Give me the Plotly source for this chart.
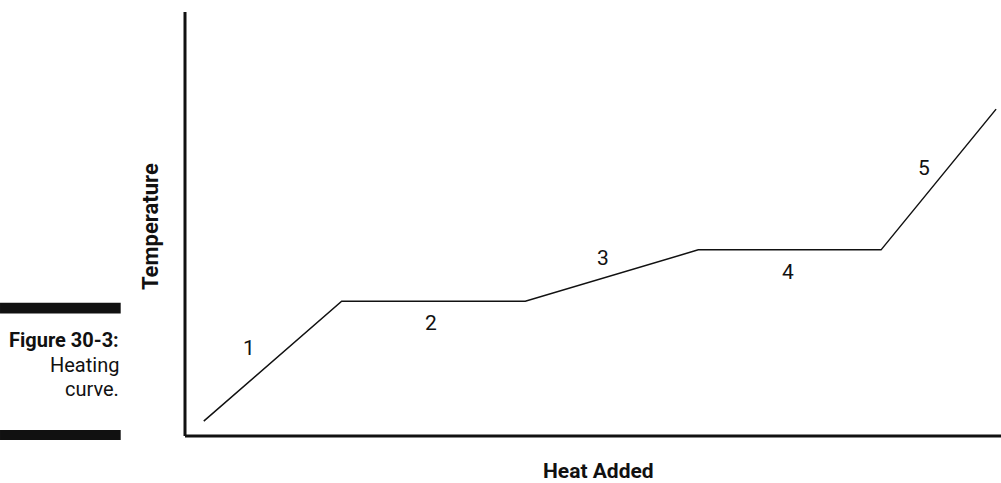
import plotly.graph_objects as go

# Data (heat added vs temperature, arbitrary units 0-100)
heat = [2.3, 19.2, 41.7, 62.9, 85.3, 99.4]
temperature = [3.5, 31.8, 31.8, 43.9, 43.9, 77.1]

# Segment labels
seg_labels = ["1", "2", "3", "4", "5"]
seg_label_x = [7.8, 30.1, 51.2, 73.9, 90.6]
seg_label_y = [20.8, 26.7, 42.0, 38.7, 63.2]

FONT = "Roboto, Liberation Sans, sans-serif"
INK = "#111111"

fig = go.Figure()
fig.add_trace(go.Scatter(
    x=heat, y=temperature, mode="lines",
    line=dict(color=INK, width=1.5),
    hoverinfo="skip", showlegend=False,
))

annotations = []
for t, x, y in zip(seg_labels, seg_label_x, seg_label_y):
    annotations.append(dict(x=x, y=y, xref="x", yref="y", text=t, showarrow=False,
                            font=dict(family=FONT, size=21, color=INK),
                            xanchor="center", yanchor="middle"))

# Axis titles
annotations.append(dict(x=0.507, y=-0.082, xref="paper", yref="paper", text="<b>Heat Added</b>",
                        showarrow=False, borderpad=0, font=dict(family=FONT, size=21, color=INK),
                        xanchor="center", yanchor="middle"))
annotations.append(dict(x=-0.043, y=0.495, xref="paper", yref="paper", text="<b>Temperature</b>",
                        showarrow=False, textangle=-90,
                        font=dict(family=FONT, size=22, color=INK),
                        xanchor="center", yanchor="middle"))

# Caption
caption = [("<b>Figure 30-3:</b>", 0.226), ("Heating", 0.167), ("curve.", 0.111)]
for txt, yp in caption:
    annotations.append(dict(x=-0.079, y=yp, xref="paper", yref="paper", text=txt,
                            showarrow=False, font=dict(family=FONT, size=20, color=INK),
                            xanchor="right", yanchor="middle"))

shapes = [
    # axes lines
    dict(type="line", xref="paper", yref="paper", x0=0, x1=0, y0=0, y1=1,
         line=dict(color=INK, width=3)),
    dict(type="line", xref="paper", yref="paper", x0=0, x1=1, y0=0, y1=0,
         line=dict(color=INK, width=3)),
    # caption bars
    dict(type="rect", xref="paper", yref="paper", x0=-0.2267, x1=-0.0788, y0=0.289, y1=0.314,
         fillcolor=INK, line=dict(width=0)),
    dict(type="rect", xref="paper", yref="paper", x0=-0.2267, x1=-0.0788, y0=-0.0094, y1=0.0142,
         fillcolor=INK, line=dict(width=0)),
]

fig.update_layout(
    width=1001, height=483,
    margin=dict(l=185, r=0, t=12, b=47),
    paper_bgcolor="white", plot_bgcolor="white",
    xaxis=dict(range=[0, 100], visible=False, fixedrange=True),
    yaxis=dict(range=[0, 100], visible=False, fixedrange=True),
    annotations=annotations, shapes=shapes,
    showlegend=False,
)

fig.write_html("out.html", config={"displayModeBar": False},
               post_script="document.body.style.margin='0';document.body.style.overflow='hidden';")
